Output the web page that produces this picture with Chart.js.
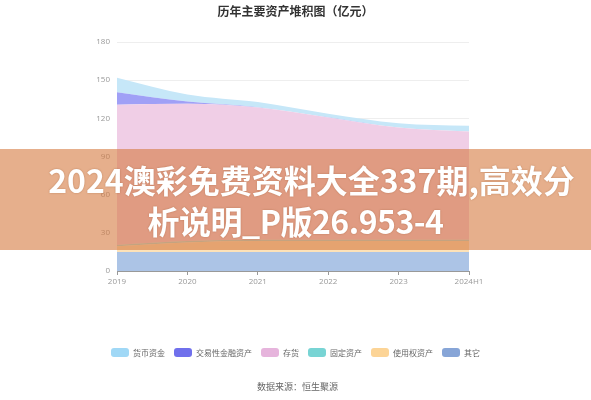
<!DOCTYPE html>
<html>
<head>
<meta charset="utf-8">
<script src="https://cdn.jsdelivr.net/npm/chart.js@4.4.0/dist/chart.umd.min.js"></script>
<style>
    body { margin: 0; background: #fff; }
    #box { position: relative; width: 591px; height: 400px; }
    #titolo { position: absolute; top: 2px; left: 0; width: 591px; text-align: center;
        font: bold 12px "Noto Sans CJK SC", sans-serif; color: #333; }
    #fonte { position: absolute; top: 380px; left: 0; width: 595px; text-align: center;
        font: 9px "Noto Sans CJK SC", sans-serif; color: #666; }
    #banner { position: absolute; top: 149px; left: 0; width: 591px; height: 101px;
        background: rgba(213, 122, 63, 0.6); }
    #banner div { position: absolute; left: 0; width: 591px; text-align: center; color: #fff;
        font: bold 32px "Noto Sans CJK SC", sans-serif; line-height: 40px; white-space: nowrap;
        text-shadow: 0 0 2px rgba(120, 60, 20, 0.4); }
</style>
</head>
<body>
<div id="box">
    <canvas id="myChart" width="591" height="400"></canvas>
    <div id="titolo">历年主要资产堆积图（亿元）</div>
    <div id="fonte">数据来源：恒生聚源</div>
    <div id="banner">
        <div style="top: 10px; left: 16px;">2024澳彩免费资料大全337期,高效分</div>
        <div style="top: 51px; letter-spacing: -0.5px;">析说明_P版26.953-4</div>
    </div>
</div>
<script>
var anni = ['2019', '2020', '2021', '2022', '2023', '2024H1'];
var nomi = ['货币资金', '交易性金融资产', '存货', '固定资产', '使用权资产', '其它'];

// valori in 亿元
var huobi_zijin = [11.4, 5.6, 4.0, 2.8, 3.4, 4.5];
var jiaoyi_jinrong = [9.8, 1.8, 0.3, 0.2, 0, 0];
var cunhuo = [110.2, 107.9, 104, 96.2, 88.3, 85.1];
var guding_zichan = [1, 1, 1, 1, 1, 1];
var shiyongquan = [4.5, 7.5, 8.5, 8.5, 8.5, 8.5];
var qita = [15, 15, 15, 15, 15, 15];

var tick_y = [0, 30, 60, 90, 120, 150, 180];

var colori_area = ['rgb(198, 231, 248)', 'rgb(160, 160, 246)', 'rgb(240, 206, 230)',
    'rgb(170, 226, 226)', 'rgb(253, 226, 184)', 'rgb(172, 196, 230)'];
var colori_legenda = ['rgb(160, 216, 246)', 'rgb(112, 112, 236)', 'rgb(230, 180, 220)',
    'rgb(120, 212, 212)', 'rgb(252, 212, 150)', 'rgb(135, 165, 215)'];

window.onload = function () {
    chart1();
};

function serie(i, valori) {
    return {
        label: nomi[i],
        data: valori,
        backgroundColor: colori_area[i],
        borderWidth: 0,
        pointRadius: 0,
        fill: i == 5 ? 'origin' : '-1',
        cubicInterpolationMode: 'monotone'
    };
}

function chart1() {
    var ctx = document.getElementById('myChart').getContext('2d');

    var myChart = new Chart(ctx, {
        type: 'line',
        data: {
            labels: anni,
            // dal basso verso l'alto
            datasets: [
                serie(5, qita),
                serie(4, shiyongquan),
                serie(3, guding_zichan),
                serie(2, cunhuo),
                serie(1, jiaoyi_jinrong),
                serie(0, huobi_zijin)
            ]
        },
        options: {
            responsive: false,
            animation: false,
            layout: { padding: { top: 42, right: 0, bottom: 33, left: 0 } },
            scales: {
                x: {
                    offset: false,
                    afterFit: function (scale) { scale.height = 68; },
                    grid: { drawOnChartArea: false, tickLength: 4, color: '#999' },
                    border: { color: '#999' },
                    ticks: { color: '#999', padding: 2, font: { size: 8, family: 'Open Sans' } }
                },
                y: {
                    stacked: true,
                    min: 0,
                    max: 180,
                    afterFit: function (scale) { scale.width = 117; },
                    afterBuildTicks: function (scale) {
                        scale.ticks = tick_y.map(function (v) { return { value: v }; });
                    },
                    grid: { color: '#eee', drawTicks: false },
                    border: { display: false },
                    ticks: { color: '#999', padding: 7, font: { size: 8, family: 'Open Sans' } }
                },
                // asse vuoto a destra, solo per lo spazio
                y2: {
                    position: 'right',
                    min: 0,
                    max: 180,
                    afterFit: function (scale) { scale.width = 122; },
                    grid: { display: false },
                    border: { display: false },
                    ticks: { display: false }
                }
            },
            plugins: {
                tooltip: { enabled: false },
                legend: {
                    position: 'bottom',
                    reverse: true,
                    labels: {
                        boxWidth: 18,
                        boxHeight: 9,
                        padding: 9,
                        color: '#666',
                        useBorderRadius: true,
                        borderRadius: 3,
                        font: { size: 8, family: 'Noto Sans CJK SC' },
                        generateLabels: function (chart) {
                            var items = Chart.defaults.plugins.legend.labels.generateLabels(chart);
                            items.forEach(function (it) {
                                var k = nomi.indexOf(it.text);
                                it.fillStyle = colori_legenda[k];
                                it.strokeStyle = colori_legenda[k];
                                it.lineWidth = 0;
                            });
                            return items;
                        }
                    }
                }
            }
        }
    });
}
</script>
</body>
</html>
